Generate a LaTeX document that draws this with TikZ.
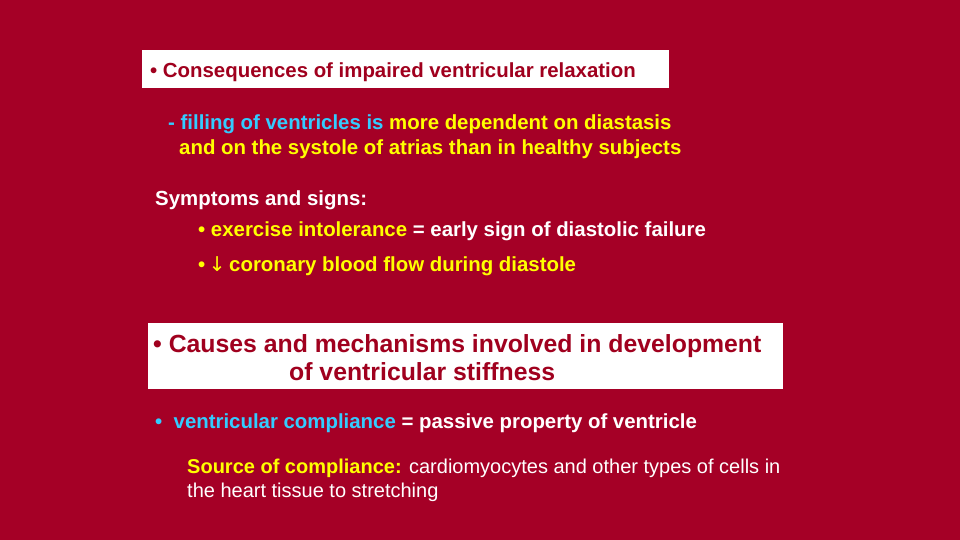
\documentclass[tikz,border=0pt]{standalone}
\usepackage{fontspec}
\setmainfont{Liberation Sans}
\newfontfamily\djv{DejaVu Sans}
\definecolor{bg}{RGB}{165,0,38}
\definecolor{dred}{RGB}{160,0,30}
\definecolor{ylw}{RGB}{255,255,0}
\definecolor{cyn}{RGB}{51,204,255}
\begin{document}
\begin{tikzpicture}[x=1pt,y=-1pt,
  txt/.style={anchor=base west,inner sep=0pt,font=\fontsize{20.4}{24}\selectfont\bfseries},
  big/.style={anchor=base west,inner sep=0pt,font=\fontsize{24.8}{28}\selectfont\bfseries,text=dred},
  reg/.style={anchor=base west,inner sep=0pt,font=\fontsize{20}{24}\selectfont,text=white}]
\fill[bg] (0,0) rectangle (960,540);
\useasboundingbox (0,0) rectangle (960,540);
\fill[white] (142,50) rectangle (669,88);
\fill[white] (148,323) rectangle (783,389);
\node[txt,text=dred] (h1) at (150,78) {\textbullet\ Consequences of impaired ventricular relaxation};
\node[txt,text=ylw] (f1) at (168,130) {\textcolor{cyn}{- filling of ventricles is} more dependent on diastasis};
\node[txt,text=ylw] (f2) at (179,155) {and on the systole of atrias than in healthy subjects};
\node[txt,text=white] (s) at (155,205) {Symptoms and signs:};
\node[txt,text=white] (s1) at (198,236) {\textcolor{ylw}{\textbullet\ exercise intolerance} = early sign of diastolic failure};
\node[txt,text=ylw] (s2) at (198,271) {\textbullet\,{\djv\mdseries↓}\,coronary blood flow during diastole};
\node[big] (h2) at (153,352) {\textbullet\ Causes and mechanisms involved in development};
\node[big] (h3) at (289,380) {of ventricular stiffness};
\node[txt,text=white] (c1) at (155,428) {\textcolor{cyn}{\textbullet\ \ ventricular compliance} = passive property of ventricle};
\node[reg] (c2) at (187,473) {\textcolor{ylw}{\bfseries Source of compliance:} cardiomyocytes and other types of cells in};
\node[reg] (c3) at (187,497) {the heart tissue to stretching};
\end{tikzpicture}
\end{document}
